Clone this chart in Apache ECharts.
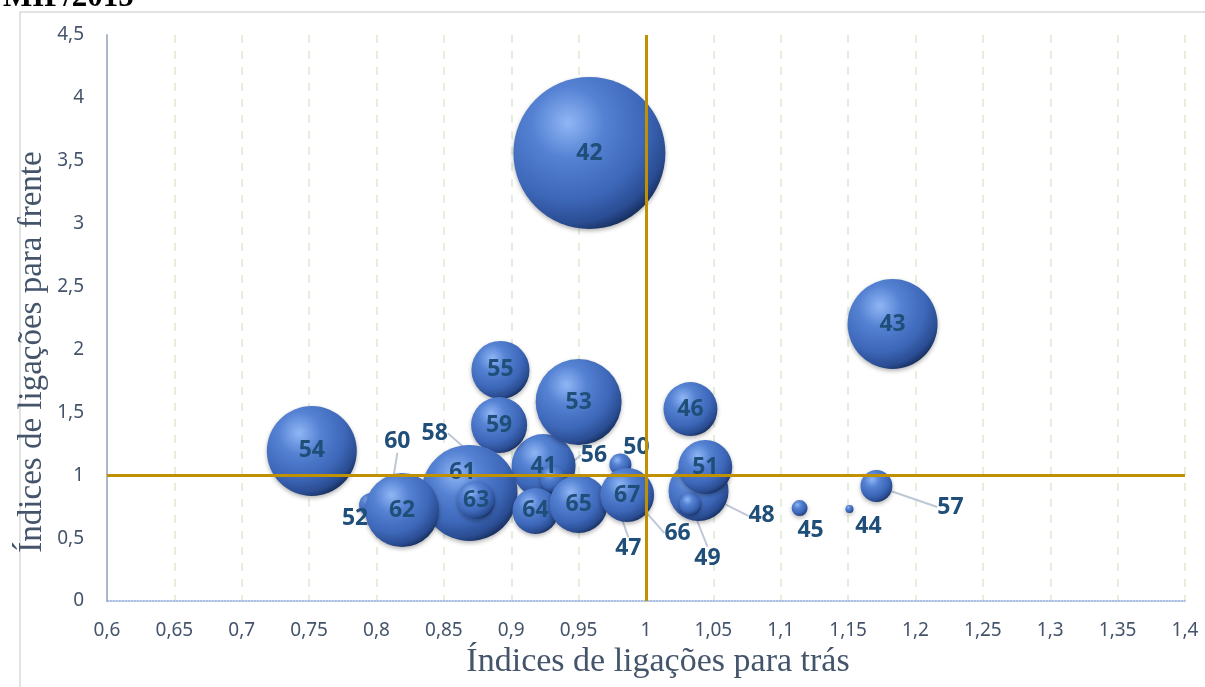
<!DOCTYPE html>
<html>
<head>
<meta charset="utf-8">
<script src="https://cdn.jsdelivr.net/npm/echarts@6/dist/echarts.min.js"></script>
<style>html,body{margin:0;padding:0;background:#fff}#c{width:1205px;height:687px}</style>
</head>
<body>
<div id="c"></div>
<script>
// Sector codes
const sectors  = [41, 42, 43, 44, 45, 46, 47, 48, 49, 50, 51, 52, 53, 54, 55, 56, 57, 58, 59, 60, 61, 62, 63, 64, 65, 66, 67];
// Índices de ligações para trás (backward linkages)
const backward = [0.924, 0.958, 1.183, 1.151, 1.114, 1.033, 0.978, 1.039, 1.033, 0.981, 1.044, 0.796, 0.950, 0.752, 0.892, 0.931, 1.171, 0.884, 0.891, 0.811, 0.869, 0.819, 0.874, 0.918, 0.950, 0.996, 0.986];
// Índices de ligações para frente (forward linkages)
const forward  = [1.073, 3.562, 2.202, 0.731, 0.739, 1.526, 0.780, 0.875, 0.771, 1.085, 1.065, 0.763, 1.582, 1.193, 1.837, 0.970, 0.914, 1.040, 1.399, 0.880, 0.859, 0.723, 0.803, 0.716, 0.771, 0.755, 0.843];
// Bubble weight (relative)
const weight   = [17.7, 100, 35, 0.28, 1.1, 12.6, 1.5, 15.6, 2.1, 2.1, 12.6, 2.5, 32, 35, 14.6, 2.9, 4.4, 1.5, 13.6, 1.0, 40, 23.7, 6.25, 9.2, 14.6, 0.5, 12.6];
// Axis ticks
const xMin = 0.6, xMax = 1.4, xStep = 0.05;
const yMin = 0, yMax = 4.5, yStep = 0.5;
const refX = 1, refY = 1;

// label placement (style): [dx, dy, showLeader]
const labelMoves = {
  44: [19, 17, false], 45: [11, 22, false], 47: [12, 46, true], 48: [63, 25, true],
  49: [17, 54, true], 50: [16, -17, false], 52: [-16, 13, false], 56: [41, -24, true],
  57: [74, 21, true], 58: [-55, -37, true], 60: [6, -49, true], 61: [-7, -21, false], 66: [37, 27, true]
};

const ball = {
  type: 'radial', x: 0.36, y: 0.3, r: 0.78,
  colorStops: [
    {offset: 0, color: '#90b6f5'},
    {offset: 0.3, color: '#5582d3'},
    {offset: 0.65, color: '#3d67b8'},
    {offset: 0.85, color: '#2a4d93'},
    {offset: 1, color: '#0f2248'}
  ]
};

const data = sectors.map((s, i) => {
  const m = labelMoves[s];
  return {
    value: [backward[i], forward[i], weight[i]],
    name: String(s),
    labelLine: {show: !!(m && m[2])}
  };
});

const fmt = v => {
  const r = Math.round(v * 100) / 100;
  return String(r).replace('.', ',');
};

const chart = echarts.init(document.getElementById('c'));
chart.setOption({
  animation: false,
  grid: {left: 107, right: 20, top: 35, bottom: 86},
  xAxis: {
    type: 'value', min: xMin, max: xMax, interval: xStep,
    axisLine: {show: true, onZero: false, lineStyle: {color: '#8eaadb', type: 'dotted', width: 1.5}},
    axisTick: {show: false},
    axisLabel: {formatter: fmt, color: '#44546a', fontSize: 19, fontFamily: 'Noto Sans', margin: 20},
    splitLine: {show: true, lineStyle: {color: '#e2efd9', type: [8, 8], width: 2}}
  },
  yAxis: {
    type: 'value', min: yMin, max: yMax, interval: yStep,
    axisLine: {show: true, onZero: false, lineStyle: {color: '#adb9ca', width: 2}},
    axisTick: {show: false},
    axisLabel: {formatter: fmt, color: '#44546a', fontSize: 19, fontFamily: 'Noto Sans', margin: 23},
    splitLine: {show: false}
  },
  graphic: [
    {type: 'rect', shape: {x: 20, y: 12, width: 1200, height: 700}, style: {fill: 'none', stroke: '#d9d9d9', lineWidth: 1.5}, silent: true, z: -10},
    {type: 'text', x: 3, y: -18, style: {text: 'MIP/2015', font: 'bold 31px "Liberation Serif"', fill: '#000'}},
    {type: 'text', x: 658, y: 662, style: {text: 'Índices de ligações para trás', font: '34px "Liberation Serif"', fill: '#44546a', align: 'center', verticalAlign: 'middle'}},
    {type: 'text', x: 32, y: 352, rotation: Math.PI / 2, style: {text: 'Índices de ligações para frente', font: '33px "Liberation Serif"', fill: '#44546a', align: 'center', verticalAlign: 'middle'}}
  ],
  series: [{
    type: 'scatter',
    data: data,
    symbolSize: v => 15.2 * Math.sqrt(v[2]),
    itemStyle: {color: ball, opacity: 1, shadowColor: 'rgba(0,0,0,0.3)', shadowBlur: 4, shadowOffsetY: 2},
    label: {
      show: true, position: 'inside', formatter: p => p.name,
      color: '#1f4e79', fontWeight: 'bold', fontSize: 23, fontFamily: 'Noto Sans'
    },
    labelLine: {show: false, lineStyle: {color: '#bfc7d5', width: 2}},
    labelLayout: function (p) {
      const m = labelMoves[sectors[p.dataIndex]];
      if (m) return {dx: m[0], dy: m[1]};
      return {};
    },
    markLine: {
      silent: true, symbol: 'none', label: {show: false},
      lineStyle: {color: '#bf9000', width: 3, type: 'solid'},
      data: [{xAxis: refX}, {yAxis: refY}]
    },
    z: 3
  }]
});
</script>
</body>
</html>
